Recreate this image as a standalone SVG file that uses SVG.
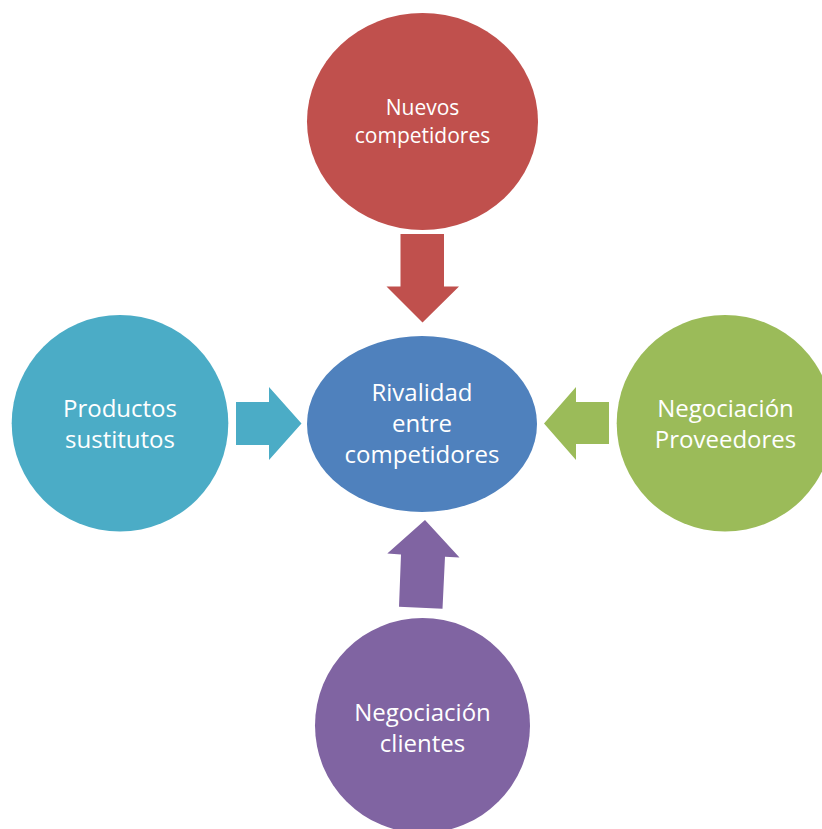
<svg xmlns="http://www.w3.org/2000/svg" width="822" height="829" viewBox="0 0 822 829">
<style>
text{font-family:"Open Sans","Liberation Sans",sans-serif;fill:#fff;text-anchor:middle;font-size:24px}
.sm{font-size:21px}
.red{fill:#C0504D}.blue{fill:#4F81BD}.teal{fill:#4BACC6}.green{fill:#9BBB59}.purple{fill:#8064A2}
</style>
<rect width="822" height="829" fill="#fff"/>
<g id="connectors">
<polygon class="red" points="400.5,234 444,234 444,286.5 459,286.5 422.5,322.5 386.5,286.5 400.5,286.5"/>
<polygon class="teal" points="236,402 269,402 269,387 301.5,423.5 269,460 269,445 236,445"/>
<polygon class="green" points="609,402 576,402 576,387 544,423.5 576,460 576,444 609,444"/>
<polygon class="purple" points="425,520 459.5,557.5 445,556.8 442.5,608.7 399,606.7 401,554.5 387.3,553.5"/>
</g>
<g id="nuevos">
<ellipse class="red" cx="422.5" cy="121.5" rx="115.5" ry="108.5"/>
<text class="sm" x="422.5" y="115">Nuevos</text>
<text class="sm" x="422.5" y="143">competidores</text>
</g>
<g id="rivalidad">
<ellipse class="blue" cx="422" cy="424" rx="115" ry="88"/>
<text x="422" y="401">Rivalidad</text>
<text x="422" y="432">entre</text>
<text x="422" y="463">competidores</text>
</g>
<g id="productos">
<circle class="teal" cx="120" cy="423.3" r="108.3"/>
<text x="120" y="416.7">Productos</text>
<text x="120" y="448">sustitutos</text>
</g>
<g id="proveedores">
<circle class="green" cx="725" cy="423.3" r="108.3"/>
<text x="725.5" y="416.7">Negociación</text>
<text x="725.5" y="448.3">Proveedores</text>
</g>
<g id="clientes">
<circle class="purple" cx="422.5" cy="725.5" r="107.5"/>
<text x="422.5" y="720.7">Negociación</text>
<text x="422.5" y="751.7">clientes</text>
</g>
</svg>
